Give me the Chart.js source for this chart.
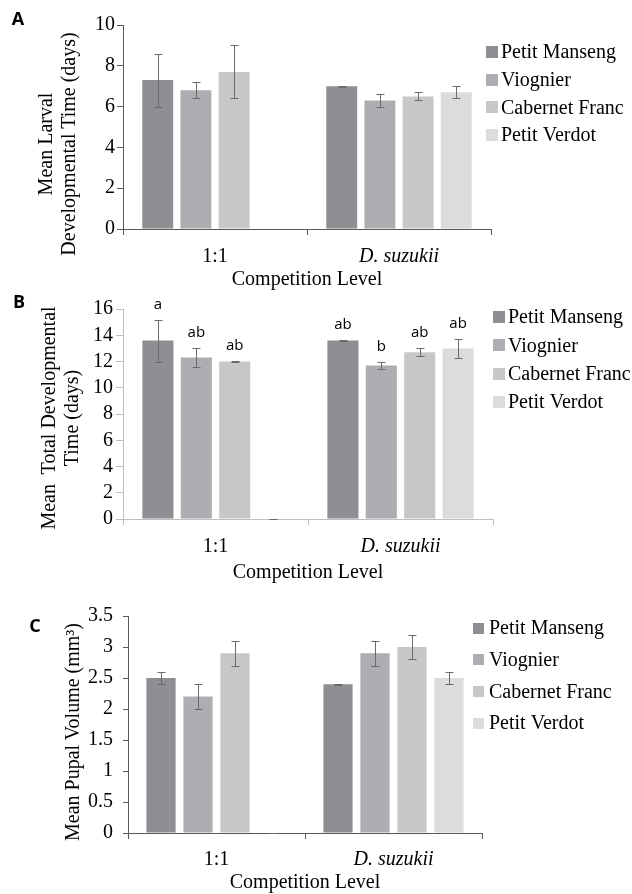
<!DOCTYPE html>
<html>
<head>
<meta charset="utf-8">
<script src="https://cdn.jsdelivr.net/npm/chart.js@4/dist/chart.umd.min.js"></script>
<style>
  html, body { margin: 0; padding: 0; background: #fff; }
  #wrap { position: relative; width: 632px; height: 894px; overflow: hidden; background: #fff; }
  canvas { position: absolute; left: 0; }
  .panel { position: absolute; font-family: 'Open Sans', 'Liberation Sans', sans-serif; font-weight: 700; font-size: 18px; color: #000; transform: translate(-50%, -50%); }
  .ytitle { position: absolute; font-family: 'Liberation Serif', 'Times New Roman', serif; font-size: 20px; line-height: 23px; color: #000; white-space: nowrap; text-align: center; transform: translate(-50%, -50%) rotate(-90deg); }
</style>
</head>
<body>
<div id="wrap">
  <canvas id="cA" width="632" height="300" style="top:0px"></canvas>
  <canvas id="cB" width="632" height="300" style="top:290px"></canvas>
  <canvas id="cC" width="632" height="304" style="top:590px"></canvas>
  <div class="panel" style="left:18px; top:18px">A</div>
  <div class="panel" style="left:19px; top:301px">B</div>
  <div class="panel" style="left:35px; top:625px">C</div>
  <div class="ytitle" style="left:56.5px; top:144px">Mean Larval<br>Developmental Time (days)</div>
  <div class="ytitle" style="left:59.5px; top:418px">Mean&nbsp; Total Developmental<br>Time (days)</div>
  <div class="ytitle" style="left:72px; top:732px">Mean Pupal Volume (mm³)</div>
</div>
<script>
// ---------- data ----------
const categories = ['1:1', 'D. suzukii'];
const italicCategories = ['D. suzukii'];
const cultivars = ['Petit Manseng', 'Viognier', 'Cabernet Franc', 'Petit Verdot'];
const cultivarColors = ['#8e8f92', '#adaeb1', '#c6c7c9', '#dcdcde'];

// Panel A: mean larval developmental time (days), per cultivar [1:1, D. suzukii]
const larvalMeans  = [[7.3, 7.0], [6.8, 6.3], [7.7, 6.5], [null, 6.7]];
const larvalErrors = [[1.3, 0.02], [0.4, 0.3], [1.3, 0.2], [null, 0.3]];
const larvalTicks  = [0, 2, 4, 6, 8, 10];

// Panel B: mean total developmental time (days)
const totalMeans   = [[13.6, 13.6], [12.3, 11.7], [12.0, 12.7], [0, 13.0]];
const totalErrors  = [[1.6, 0.03], [0.7, 0.25], [0.03, 0.3], [0, 0.7]];
const totalLetters = [['a', 'ab'], ['ab', 'b'], ['ab', 'ab'], ['', 'ab']];
const totalTicks   = [0, 2, 4, 6, 8, 10, 12, 14, 16];

// Panel C: mean pupal volume (mm3)
const pupalMeans   = [[2.5, 2.4], [2.2, 2.9], [2.9, 3.0], [0, 2.5]];
const pupalErrors  = [[0.1, 0.005], [0.2, 0.2], [0.2, 0.2], [0, 0.1]];
const pupalTicks   = [0, 0.5, 1, 1.5, 2, 2.5, 3, 3.5];

// ---------- plugins ----------
const SERIF = "'Liberation Serif', 'Times New Roman', serif";

const errorBarPlugin = {
  id: 'errorBars',
  afterDatasetsDraw(chart, args, opts) {
    const ctx = chart.ctx;
    const yScale = chart.scales.y;
    ctx.save();
    ctx.strokeStyle = opts.color || '#666';
    ctx.lineWidth = 1;
    chart.data.datasets.forEach((ds, di) => {
      if (!ds.errors) return;
      const meta = chart.getDatasetMeta(di);
      meta.data.forEach((bar, i) => {
        const v = ds.data[i], e = ds.errors[i];
        if (v === null || v === undefined || e === null || e === undefined) return;
        const x = Math.round(bar.x) + 0.5;
        const yt = Math.round(yScale.getPixelForValue(v + e)) + 0.5;
        const yb = Math.round(yScale.getPixelForValue(v - e)) + 0.5;
        const c = opts.cap || 4;
        ctx.beginPath();
        ctx.moveTo(x, yt); ctx.lineTo(x, yb);
        ctx.moveTo(x - c, yt); ctx.lineTo(x + c, yt);
        ctx.moveTo(x - c, yb); ctx.lineTo(x + c, yb);
        ctx.stroke();
      });
    });
    ctx.restore();
  }
};

const letterPlugin = {
  id: 'sigLetters',
  afterDatasetsDraw(chart, args, opts) {
    if (!opts || !opts.display) return;
    const ctx = chart.ctx;
    const yScale = chart.scales.y;
    ctx.save();
    ctx.fillStyle = '#000';
    ctx.font = opts.font;
    ctx.textAlign = 'center';
    ctx.textBaseline = 'alphabetic';
    chart.data.datasets.forEach((ds, di) => {
      if (!ds.letters) return;
      const meta = chart.getDatasetMeta(di);
      meta.data.forEach((bar, i) => {
        const t = ds.letters[i];
        if (!t) return;
        const top = ds.data[i] + (ds.errors ? ds.errors[i] || 0 : 0);
        ctx.fillText(t, bar.x, yScale.getPixelForValue(top) - opts.gap);
      });
    });
    ctx.restore();
  }
};

const sideLegendPlugin = {
  id: 'sideLegend',
  afterDraw(chart, args, opts) {
    const ctx = chart.ctx;
    ctx.save();
    ctx.font = '20px ' + SERIF;
    ctx.textBaseline = 'middle';
    ctx.textAlign = 'left';
    chart.data.datasets.forEach((ds, i) => {
      const cy = opts.y0 + i * opts.dy;
      ctx.fillStyle = ds.backgroundColor;
      ctx.fillRect(opts.boxX, Math.round(cy - opts.box / 2), opts.box, opts.box);
      ctx.fillStyle = '#000';
      ctx.fillText(ds.label, opts.textX, cy + 1);
    });
    ctx.restore();
  }
};

// ---------- builder ----------
function makeChart(id, cfg) {
  const datasets = cultivars.map((name, i) => ({
    label: name,
    data: cfg.means[i],
    errors: cfg.errors[i],
    letters: cfg.letters ? cfg.letters[i] : null,
    backgroundColor: cultivarColors[i],
    borderWidth: 0,
    categoryPercentage: cfg.catPct,
    barPercentage: cfg.barPct
  }));
  return new Chart(document.getElementById(id), {
    type: 'bar',
    data: { labels: categories, datasets },
    plugins: [errorBarPlugin, letterPlugin, sideLegendPlugin],
    options: {
      responsive: false,
      animation: false,
      devicePixelRatio: 1,
      layout: { padding: { top: cfg.padTop, left: 0, right: cfg.padRight, bottom: 0 } },
      plugins: {
        legend: { display: false },
        tooltip: { enabled: false },
        title: { display: false },
        errorBars: { color: '#6a6a6a', cap: 4 },
        sigLetters: { display: !!cfg.letters, font: "15px 'Open Sans', 'Liberation Sans', sans-serif", gap: 11 },
        sideLegend: cfg.legend
      },
      scales: {
        x: {
          afterFit: s => { s.height = cfg.xHeight; },
          grid: { display: true, drawOnChartArea: false, drawTicks: true, tickLength: 6, color: cfg.axisColor, offset: true },
          border: { display: true, color: cfg.axisColor, width: 1 },
          ticks: {
            color: '#000',
            padding: cfg.xTickPad,
            font: c => ({ family: SERIF, size: 20, lineHeight: 1.15,
              style: (c.tick && italicCategories.includes(categories[c.index])) ? 'italic' : 'normal' })
          },
          title: { display: true, text: 'Competition Level', color: '#000',
            font: { family: SERIF, size: 20, lineHeight: 1.15 }, padding: { top: 0, bottom: cfg.titlePadBottom } }
        },
        y: {
          min: cfg.ticks[0],
          max: cfg.ticks[cfg.ticks.length - 1],
          afterFit: s => { s.width = cfg.yWidth; },
          afterBuildTicks: s => { s.ticks = cfg.ticks.map(v => ({ value: v })); },
          grid: { display: true, drawOnChartArea: false, drawTicks: true, tickLength: cfg.yTickLen, color: cfg.axisColor },
          border: { display: true, color: cfg.axisColor, width: 1 },
          ticks: { color: '#000', padding: cfg.yTickPad, font: { family: SERIF, size: 20, lineHeight: 1.15 },
            callback: v => String(v) }
        }
      }
    }
  });
}

makeChart('cA', {
  means: larvalMeans, errors: larvalErrors, ticks: larvalTicks,
  catPct: 0.83, barPct: 0.81,
  padTop: 25, padRight: 141, yWidth: 123, xHeight: 71,
  xTickPad: 10, titlePadBottom: 8.5, yTickLen: 6, yTickPad: 2,
  axisColor: '#595959',
  legend: { boxX: 486, box: 12, textX: 501, y0: 52, dy: 27.7 }
});

makeChart('cB', {
  means: totalMeans, errors: totalErrors, letters: totalLetters, ticks: totalTicks,
  catPct: 0.83, barPct: 0.81,
  padTop: 19, padRight: 139, yWidth: 123, xHeight: 71,
  xTickPad: 10, titlePadBottom: 5.5, yTickLen: 7, yTickPad: 3,
  axisColor: '#bfbfbf',
  legend: { boxX: 493, box: 12, textX: 508, y0: 27, dy: 28.3 }
});

makeChart('cC', {
  means: pupalMeans, errors: pupalErrors, ticks: pupalTicks,
  catPct: 0.836, barPct: 0.79,
  padTop: 26, padRight: 150, yWidth: 128, xHeight: 61,
  xTickPad: 9, titlePadBottom: 0, yTickLen: 5, yTickPad: 10,
  axisColor: '#595959',
  legend: { boxX: 473, box: 11, textX: 489, y0: 38, dy: 31.7 }
});
</script>
</body>
</html>
